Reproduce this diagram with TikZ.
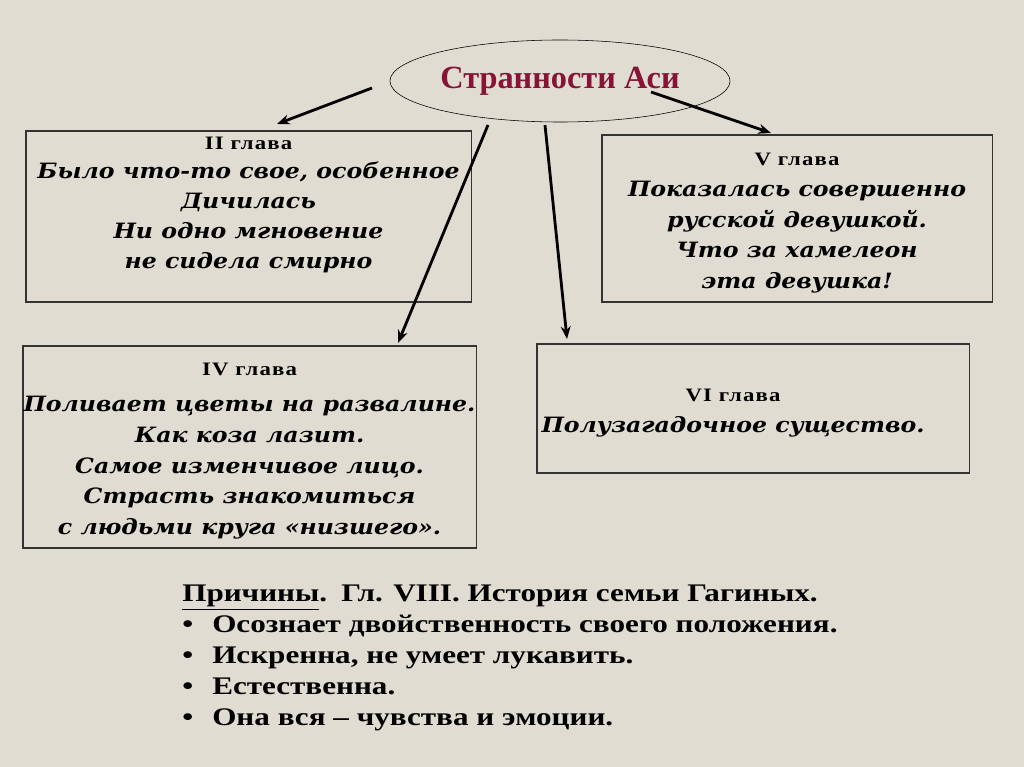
\documentclass[tikz,border=0pt]{standalone}
\usepackage{fontspec}
\setmainfont{Liberation Serif}
\newfontfamily\bookfont[FakeStretch=1.12]{DejaVu Serif}
\newfontfamily\labfam[FakeStretch=1.2,LetterSpace=6]{Liberation Serif}
\newfontfamily\causefont[FakeStretch=1.23]{Liberation Serif}
\usetikzlibrary{arrows.meta,shapes.geometric}
\definecolor{paper}{RGB}{224,220,209}
\definecolor{titlered}{RGB}{135,20,55}
\newcommand{\labfont}{\labfam\bfseries\upshape\fontsize{13.5}{21.8}\selectfont}
\newcommand{\pt}{\makebox[0.75cm][l]{•}}

\begin{document}
\begin{tikzpicture}[x=0.025cm,y=-0.025cm]

      \tikzset{chapter/.style={draw=black!80, line width=0.8pt, inner sep=0pt},
               ptext/.style={align=center, inner sep=0pt, anchor=north, font=\bookfont\bfseries\itshape\fontsize{15}{21.8}\selectfont},
               arr/.style={line width=2pt, -{Stealth[length=9pt,width=7pt]}}}
      \fill[paper] (0,0) rectangle (1024,767);
      \useasboundingbox (0,0) rectangle (1024,767);
%% Title
      	\node[draw, ellipse, inner sep=0pt, minimum width=8.5cm, minimum height=2.05cm, text=titlered, font=\bfseries\fontsize{23}{28}\selectfont] (title) at (560,81) {Странности Аси};
%% Chapters
      	\node[chapter, minimum width=11.125cm, minimum height=4.275cm] (ch2) at (248.5,216.5) {};
      	\node[ptext] (t2) at (248.5,137) {{\labfont II глава}\\[-1pt] Было что-то свое, особенное\\[-0.6pt] Дичилась\\[-0.6pt] Ни одно мгновение\\[-0.6pt] не сидела смирно};
      	\node[chapter, minimum width=9.75cm, minimum height=4.175cm] (ch5) at (797,218.5) {};
      	\node[ptext] (t5) at (797,153) {{\labfont V глава}\\ Показалась совершенно\\ русской девушкой.\\ Что за хамелеон\\ эта девушка!};
      	\node[chapter, minimum width=11.325cm, minimum height=5.05cm] (ch4) at (249.5,447) {};
      	\node[ptext] (t4) at (249.5,363) {{\labfont IV глава}\\[4pt] Поливает цветы на развалине.\\ Как коза лазит.\\ Самое изменчивое лицо.\\ Страсть знакомиться\\ с людьми круга «низшего».};
      	\node[chapter, minimum width=10.8cm, minimum height=3.225cm] (ch6) at (753,408.5) {};
      	\node[ptext] (t6) at (733,389) {{\labfont VI глава}\\ Полузагадочное существо.};
%% Causes
      	\node[anchor=north west, align=left, inner sep=0pt, font=\causefont\bfseries\fontsize{18}{22}\selectfont] (why) at (182,585)
      	  {\underline{Причины}.\hspace{10pt}Гл. VIII. История семьи Гагиных.\\
      	   \pt Осознает двойственность своего положения.\\
      	   \pt Искренна, не умеет лукавить.\\
      	   \pt Естественна.\\
      	   \pt Она вся – чувства и эмоции.};
%Arrows
      	\coordinate (a1) at (372,88);  \coordinate (b1) at (277,124);
      	\coordinate (a2) at (651,92);  \coordinate (b2) at (771,133);
      	\coordinate (a3) at (488,125); \coordinate (b3) at (398,343);
      	\coordinate (a4) at (545,125); \coordinate (b4) at (567,339);
		\draw[arr] (a1) -- (b1);
		\draw[arr] (a2) -- (b2);
		\draw[arr] (a3) -- (b3);
		\draw[arr] (a4) -- (b4);

	\end{tikzpicture}
\end{document}
